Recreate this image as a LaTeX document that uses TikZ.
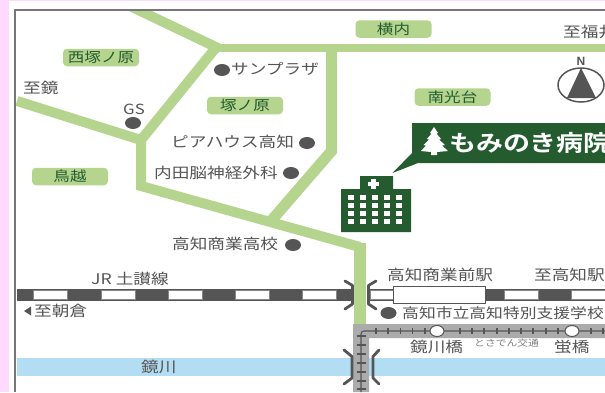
\documentclass[tikz,border=0pt]{standalone}
\usepackage{fontspec}
\newfontfamily\jp[FakeStretch=1.2]{Noto Sans CJK JP}
\newfontfamily\jpb[FakeStretch=1.2]{Noto Sans CJK JP Bold}
\setmainfont{Liberation Sans}
\definecolor{road}{HTML}{B5D58F}
\definecolor{ink}{HTML}{555555}
\definecolor{pine}{HTML}{245C2F}
\definecolor{river}{HTML}{B3DDF2}
\definecolor{pinkbg}{HTML}{FFD9FF}
\definecolor{tram}{HTML}{ABABAB}
\tikzset{
  x=1pt,y=-1pt,
  lbl/.style={inner sep=0pt,text=ink,font=\jp\fontsize{14.7}{16}\selectfont},
  pill/.style={fill=road,rounded corners=4pt,minimum width=76pt,minimum height=17.5pt,inner sep=0pt,text=pine,font=\jp\fontsize{13.8}{15}\selectfont},
  dot/.style={ellipse,fill=ink,minimum width=16pt,minimum height=12pt,inner sep=0pt},
  stationdot/.style={ellipse,fill=white,draw=ink,line width=1pt,minimum width=14pt,minimum height=11pt,inner sep=0pt},
  roadline/.style={draw=road,line join=miter},
  brace/.style={draw=ink,line width=2.8pt,line cap=round,line join=round},
  dashbox/.style={fill=white,draw=ink!70,line width=.6pt},
  tick/.style={draw=ink,line width=1.1pt},
}
\usetikzlibrary{shapes.geometric}
\begin{document}
\begin{tikzpicture}
\useasboundingbox (0,0) rectangle (605,392);
\fill[white] (0,0) rectangle (605,392);
\fill[pinkbg] (0,0) rectangle (9,392);
\fill[pinkbg] (0,0) rectangle (605,1);
\draw[ink!80,line width=1.4pt] (15,392) -- (15,10) -- (605,10);

% river
\fill[river] (17,358) rectangle (605,376);

% roads
\begin{scope}
\clip (16,11) rectangle (605,392);
\draw[roadline,line width=8.5pt] (218,48) -- (610,48);
\draw[roadline,line width=10pt] (132,7) -- (220,49);
\draw[roadline,line width=10pt] (218,45) -- (141,140) -- (141,186) -- (360,247);
\draw[roadline,line width=10pt] (17,101) -- (141,140);
\draw[roadline,line width=11pt] (331.5,48) -- (331.5,151) -- (271,221);
\draw[roadline,line width=12pt] (360,243) -- (360,326);
\end{scope}

% JR line
\fill[ink] (17,289) rectangle (352,301);
\fill[ink] (368,289) rectangle (605,301);
\foreach \a/\b in {33/67,101/135,168/202,235/269,302/336,370/393,504/538,571/606}
  \draw[dashbox] (\a,290.5) rectangle (\b,299.5);
\draw[fill=white,draw=ink,line width=1pt] (393.5,286) rectangle (485,303);
\draw[brace] (345,281) -- (352.5,285.5) -- (352.5,304) -- (345,309);
\draw[brace] (376,281) -- (368.5,285.5) -- (368.5,304) -- (376,309);

% tram line
\fill[tram] (605,324) -- (353,324) -- (353,392) -- (369,392) -- (369,338) -- (605,338) -- cycle;
\draw[ink,line width=1.1pt,rounded corners=3pt] (605,331) -- (361,331) -- (361,392);
\foreach \p in {376,388,400.7,412.7,425,460,472,484,497,509,521,533,546,558,591,603}
  \draw[tick] (\p,328) -- (\p,334);
\foreach \p in {336,345,354,363,372,381,389}
  \draw[tick] (356.5,\p) -- (365.5,\p);
\node[stationdot] (st1) at (437,331) {};
\node[stationdot] (st2) at (572,331) {};
\draw[brace] (344,350) -- (352,356.5) -- (352,378) -- (344,384);
\draw[brace] (379,350) -- (373,356.5) -- (373,378) -- (379,384);

% area pills
\node[pill] (nishi) at (101,57.5) {西塚ノ原};
\node[pill] (tsuka) at (245,105.5) {塚ノ原};
\node[pill] (tori) at (70,176.5) {鳥越};
\node[pill] (yoko) at (393.5,29) {横内};
\node[pill] (nanko) at (452.5,97) {南光台};

% dots
\node[dot] (d1) at (222,70) {};
\node[dot] (d2) at (133,123) {};
\node[dot] (d3) at (307,143) {};
\node[dot] (d4) at (291,173) {};
\node[dot] (d5) at (293,245) {};
\node[dot] (d6) at (388.5,313) {};

% labels
\node[lbl,anchor=west] (t1) at (23,88) {至鏡};
\node[lbl,anchor=west] (t2) at (563,32) {至福井};
\node[lbl,anchor=west] (t3) at (231,69) {サンプラザ};
\node[inner sep=0pt,text=ink,font=\jp\fontsize{14}{15}\selectfont] (t4) at (134,109) {GS};
\node[lbl,anchor=west] (t5) at (171,142) {ピアハウス高知};
\node[lbl,anchor=west] (t6) at (154,173) {内田脳神経外科};
\node[lbl,anchor=west] (t7) at (172,244) {高知商業高校};
\node[lbl,anchor=west] (t8) at (91,279) {JR 土讃線};
\node[lbl,anchor=west] (t9) at (34,311) {至朝倉};
\node[lbl,anchor=west] (t10) at (387,275) {高知商業前駅};
\node[lbl,anchor=west] (t11) at (534,275) {至高知駅};
\node[lbl,anchor=west,font=\jp\fontsize{14}{16}\selectfont] (t12) at (402,313) {高知市立高知特別支援学校};
\node[lbl,anchor=west] (t13) at (410,347) {鏡川橋};
\node[inner sep=0pt,anchor=west,text=ink!75,font=\jp\fontsize{9}{10}\selectfont] (t14) at (474,343) {とさでん交通};
\node[lbl,anchor=west] (t15) at (554,347) {蛍橋};
\node[lbl,anchor=west] (t16) at (141,367) {鏡川};
\fill[ink] (24,311) -- (31,306.5) -- (31,315.5) -- cycle;

% compass
\node[inner sep=0pt,text=ink,font=\bfseries\fontsize{12}{14}\selectfont] (north) at (581,61) {N};
\draw[ink,line width=1.5pt,fill=white] (581,85) ellipse [x radius=23,y radius=17];
\fill[ink] (581,68) -- (596,98) -- (567,98) -- cycle;

% callout
\fill[pine] (412,123) -- (606,123) -- (606,163) -- (418,163) -- (392.5,173) -- (412,153) -- cycle;
\fill[white] (434,127) -- (438,133) -- (436.5,133.5) -- (441,139) -- (439,139.5) -- (445,145) -- (442,145.5) -- (448,151) -- (437,152) -- (437,155) -- (431,155) -- (431,152) -- (421,151) -- (426,145.5) -- (423.5,145) -- (429,139.5) -- (427,139) -- (431.5,133.5) -- (430,133) -- cycle;
\node[inner sep=0pt,anchor=west,text=white,font=\jpb\fontsize{22.5}{24}\selectfont] (hosp) at (449,143) {もみのき病院};

% hospital building
\fill[pine] (341,232) -- (341,189) -- (360,189) -- (360,176) -- (393,176) -- (393,189) -- (411,189) -- (411,232) -- cycle;
\fill[white] (371,179) rectangle (375.5,189);
\fill[white] (368,182) rectangle (378.5,186);
\foreach \xa in {347.5,359.5,371.5,383.5,395.5}
  \foreach \ya in {195,203,211,218.5}
    \fill[white] (\xa,\ya) rectangle ++(6.5,5);
\end{tikzpicture}
\end{document}
